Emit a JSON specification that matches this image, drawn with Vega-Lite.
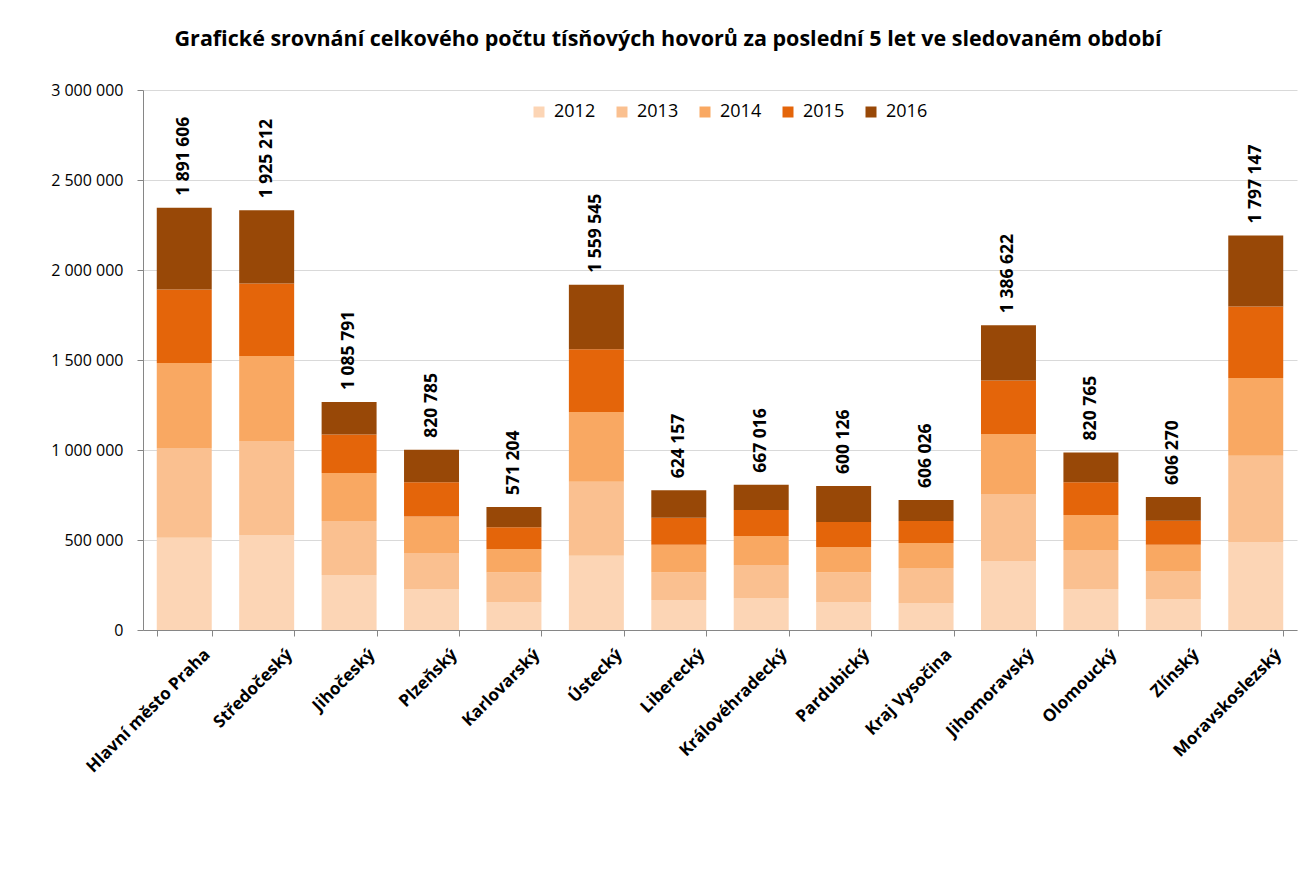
{
  "$schema": "https://vega.github.io/schema/vega-lite/v6.json",
  "width": 1154,
  "height": 540,
  "autosize": {"type": "none"},
  "padding": {"left": 143, "top": 90, "right": 17, "bottom": 240},
  "background": "white",
  "title": {
    "text": "Grafické srovnání celkového počtu tísňových hovorů za poslední 5 let ve sledovaném období",
    "font": "Open Sans",
    "fontSize": 21.5,
    "fontWeight": "bold",
    "color": "black",
    "anchor": "middle",
    "dx": -52,
    "offset": 32
  },
  "config": {
    "locale": {"number": {"decimal": ",", "thousands": " ", "grouping": [3], "currency": ["", ""]}},
    "view": {"stroke": null},
    "font": "Open Sans"
  },
  "data": {
    "values": [
      {"region": "Hlavní město Praha", "year": "2012", "value": 513000},
      {"region": "Hlavní město Praha", "year": "2013", "value": 498000},
      {"region": "Hlavní město Praha", "year": "2014", "value": 472000},
      {"region": "Hlavní město Praha", "year": "2015", "value": 408606},
      {"region": "Hlavní město Praha", "year": "2016", "value": 454000},
      {"region": "Středočeský", "year": "2012", "value": 528000},
      {"region": "Středočeský", "year": "2013", "value": 522000},
      {"region": "Středočeský", "year": "2014", "value": 472000},
      {"region": "Středočeský", "year": "2015", "value": 403212},
      {"region": "Středočeský", "year": "2016", "value": 407000},
      {"region": "Jihočeský", "year": "2012", "value": 306000},
      {"region": "Jihočeský", "year": "2013", "value": 300000},
      {"region": "Jihočeský", "year": "2014", "value": 266000},
      {"region": "Jihočeský", "year": "2015", "value": 213791},
      {"region": "Jihočeský", "year": "2016", "value": 181000},
      {"region": "Plzeňský", "year": "2012", "value": 228000},
      {"region": "Plzeňský", "year": "2013", "value": 200000},
      {"region": "Plzeňský", "year": "2014", "value": 202000},
      {"region": "Plzeňský", "year": "2015", "value": 190785},
      {"region": "Plzeňský", "year": "2016", "value": 181000},
      {"region": "Karlovarský", "year": "2012", "value": 156000},
      {"region": "Karlovarský", "year": "2013", "value": 164000},
      {"region": "Karlovarský", "year": "2014", "value": 130000},
      {"region": "Karlovarský", "year": "2015", "value": 121204},
      {"region": "Karlovarský", "year": "2016", "value": 112000},
      {"region": "Ústecký", "year": "2012", "value": 413000},
      {"region": "Ústecký", "year": "2013", "value": 411000},
      {"region": "Ústecký", "year": "2014", "value": 387000},
      {"region": "Ústecký", "year": "2015", "value": 348545},
      {"region": "Ústecký", "year": "2016", "value": 358000},
      {"region": "Liberecký", "year": "2012", "value": 167000},
      {"region": "Liberecký", "year": "2013", "value": 153000},
      {"region": "Liberecký", "year": "2014", "value": 154000},
      {"region": "Liberecký", "year": "2015", "value": 150157},
      {"region": "Liberecký", "year": "2016", "value": 152000},
      {"region": "Královéhradecký", "year": "2012", "value": 178000},
      {"region": "Královéhradecký", "year": "2013", "value": 183000},
      {"region": "Královéhradecký", "year": "2014", "value": 161000},
      {"region": "Královéhradecký", "year": "2015", "value": 145016},
      {"region": "Královéhradecký", "year": "2016", "value": 140000},
      {"region": "Pardubický", "year": "2012", "value": 156000},
      {"region": "Pardubický", "year": "2013", "value": 164000},
      {"region": "Pardubický", "year": "2014", "value": 141000},
      {"region": "Pardubický", "year": "2015", "value": 139126},
      {"region": "Pardubický", "year": "2016", "value": 200000},
      {"region": "Kraj Vysočina", "year": "2012", "value": 150000},
      {"region": "Kraj Vysočina", "year": "2013", "value": 194000},
      {"region": "Kraj Vysočina", "year": "2014", "value": 139000},
      {"region": "Kraj Vysočina", "year": "2015", "value": 123026},
      {"region": "Kraj Vysočina", "year": "2016", "value": 116000},
      {"region": "Jihomoravský", "year": "2012", "value": 383000},
      {"region": "Jihomoravský", "year": "2013", "value": 373000},
      {"region": "Jihomoravský", "year": "2014", "value": 333000},
      {"region": "Jihomoravský", "year": "2015", "value": 297622},
      {"region": "Jihomoravský", "year": "2016", "value": 307000},
      {"region": "Olomoucký", "year": "2012", "value": 228000},
      {"region": "Olomoucký", "year": "2013", "value": 216000},
      {"region": "Olomoucký", "year": "2014", "value": 195000},
      {"region": "Olomoucký", "year": "2015", "value": 181765},
      {"region": "Olomoucký", "year": "2016", "value": 166000},
      {"region": "Zlínský", "year": "2012", "value": 172000},
      {"region": "Zlínský", "year": "2013", "value": 156000},
      {"region": "Zlínský", "year": "2014", "value": 146000},
      {"region": "Zlínský", "year": "2015", "value": 132270},
      {"region": "Zlínský", "year": "2016", "value": 133000},
      {"region": "Moravskoslezský", "year": "2012", "value": 489000},
      {"region": "Moravskoslezský", "year": "2013", "value": 479000},
      {"region": "Moravskoslezský", "year": "2014", "value": 432000},
      {"region": "Moravskoslezský", "year": "2015", "value": 397147},
      {"region": "Moravskoslezský", "year": "2016", "value": 394000}
    ]
  },
  "encoding": {
    "x": {
      "field": "region",
      "type": "nominal",
      "sort": null,
      "scale": {"paddingInner": 0.333, "paddingOuter": 0.167},
      "axis": {
        "title": null,
        "labelAngle": -45,
        "labelFont": "Open Sans",
        "labelFontSize": 17,
        "labelFontWeight": "bold",
        "labelColor": "black",
        "labelOffset": 17,
        "labelPadding": 10,
        "tickBand": "extent",
        "tickSize": 6,
        "tickColor": "#868686",
        "domainColor": "#868686",
        "labelLimit": 300
      }
    }
  },
  "layer": [
    {
      "mark": {"type": "bar"},
      "encoding": {
        "y": {
          "field": "value",
          "type": "quantitative",
          "aggregate": "sum",
          "stack": "zero",
          "scale": {"domain": [0, 3000000]},
          "axis": {
            "title": null,
            "values": [0, 500000, 1000000, 1500000, 2000000, 2500000, 3000000],
            "format": ",d",
            "labelFont": "Open Sans",
            "labelFontSize": 16,
            "labelColor": "black",
            "labelPadding": 14,
            "tickSize": 6,
            "tickColor": "#868686",
            "domainColor": "#868686",
            "gridColor": "#D9D9D9",
            "gridWidth": 1.2
          }
        },
        "color": {
          "field": "year",
          "type": "nominal",
          "scale": {
            "domain": ["2012", "2013", "2014", "2015", "2016"],
            "range": ["#FCD5B5", "#FAC090", "#F9A862", "#E4650A", "#984807"]
          },
          "legend": {
            "title": null,
            "orient": "none",
            "direction": "horizontal",
            "legendX": 387,
            "legendY": 13,
            "symbolType": "square",
            "symbolSize": 121,
            "symbolStrokeWidth": 0,
            "labelFont": "Open Sans",
            "labelFontSize": 18,
            "labelColor": "black",
            "labelOffset": 6,
            "columnPadding": 17
          }
        },
        "order": {"field": "year", "sort": "ascending"}
      }
    },
    {
      "transform": [
        {"joinaggregate": [{"op": "sum", "field": "value", "as": "total"}], "groupby": ["region"]},
        {"filter": "datum.year != '2016'"},
        {"aggregate": [{"op": "sum", "field": "value", "as": "cum"}, {"op": "max", "field": "total", "as": "total"}], "groupby": ["region"]}
      ],
      "mark": {
        "type": "text",
        "angle": 270,
        "align": "left",
        "baseline": "middle",
        "dx": 12,
        "font": "Open Sans",
        "fontSize": 17.5,
        "fontWeight": "bold",
        "color": "black"
      },
      "encoding": {
        "y": {"field": "total", "type": "quantitative"},
        "text": {"field": "cum", "type": "quantitative", "format": ",d"}
      }
    }
  ]
}
